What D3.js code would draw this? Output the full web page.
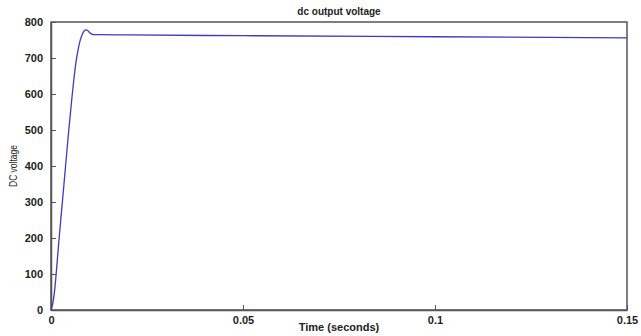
<!DOCTYPE html>
<html><head><meta charset="utf-8">
<script src="https://cdn.jsdelivr.net/npm/d3@7"></script>
<style>body{margin:0;background:#fff}svg{display:block}</style>
</head><body><svg id="c" width="641" height="336"></svg>
<script>
const timeS = [0,0.0005,0.001,0.0015,0.002,0.0025,0.003,0.0035,0.004,0.0045,0.005,0.0055,0.006,0.0065,0.007,0.0075,0.008,0.0085,0.009,0.0095,0.010,0.0105,0.011,0.012,0.02,0.05,0.1,0.15];
const voltage = [0,20,60,120,185,245,305,365,425,485,540,595,645,688,720,745,762,773,778,777,771,767,765,765,764,762,759,756];
const xTicks = [0,0.05,0.1,0.15];
const xTickLabels = ["0","0.05","0.1","0.15"];
const yTicks = [0,100,200,300,400,500,600,700,800];

const svg = d3.select("#c");
const L=51,R=627,T=22,B=310;
const x = d3.scaleLinear().domain([0,0.15]).range([L,R]);
const y = d3.scaleLinear().domain([0,800]).range([B,T]);
const font = "Liberation Sans, Arial, sans-serif";

svg.append("rect").attr("x",L).attr("y",T).attr("width",R-L).attr("height",B-T)
  .attr("fill","none").attr("stroke","#555").attr("stroke-width",1.5);

const xa = svg.append("g").attr("transform",`translate(0,${B})`)
  .call(d3.axisBottom(x).tickValues(xTicks).tickFormat((d,i)=>xTickLabels[i]).tickSizeInner(-5).tickSizeOuter(0).tickPadding(4));
const ya = svg.append("g").attr("transform",`translate(${L},0)`)
  .call(d3.axisLeft(y).tickValues(yTicks).tickSizeInner(-5).tickSizeOuter(0).tickPadding(8));
[xa,ya].forEach(g=>{
  g.select(".domain").attr("stroke","#555").attr("stroke-width",1.5);
  g.selectAll(".tick line").attr("stroke","#555");
  g.selectAll("text").attr("font-family",font).attr("font-weight","bold").attr("font-size",11).attr("fill","#222");
});
xa.selectAll("text").attr("dy","0.9em");

svg.append("path").datum(timeS.map((t,i)=>[t,voltage[i]]))
  .attr("fill","none").attr("stroke","#3b3bc4").attr("stroke-width",1.3)
  .attr("d",d3.line().x(d=>x(d[0])).y(d=>y(d[1])).curve(d3.curveMonotoneX));

svg.append("text").attr("x",(L+R)/2).attr("y",15).attr("text-anchor","middle")
  .attr("font-family",font).attr("font-weight","bold").attr("font-size",10).attr("fill","#222").text("dc output voltage");
svg.append("text").attr("x",(L+R)/2).attr("y",331).attr("text-anchor","middle")
  .attr("font-family",font).attr("font-weight","bold").attr("font-size",11).attr("fill","#222").text("Time (seconds)");
svg.append("text").attr("transform",`translate(17,${(T+B)/2}) rotate(-90)`).attr("text-anchor","middle")
  .attr("font-family","Liberation Sans Narrow, Arial Narrow, sans-serif").attr("font-size",11).attr("fill","#222")
  .attr("textLength",42).attr("lengthAdjust","spacingAndGlyphs").text("DC voltage");
</script></body></html>
